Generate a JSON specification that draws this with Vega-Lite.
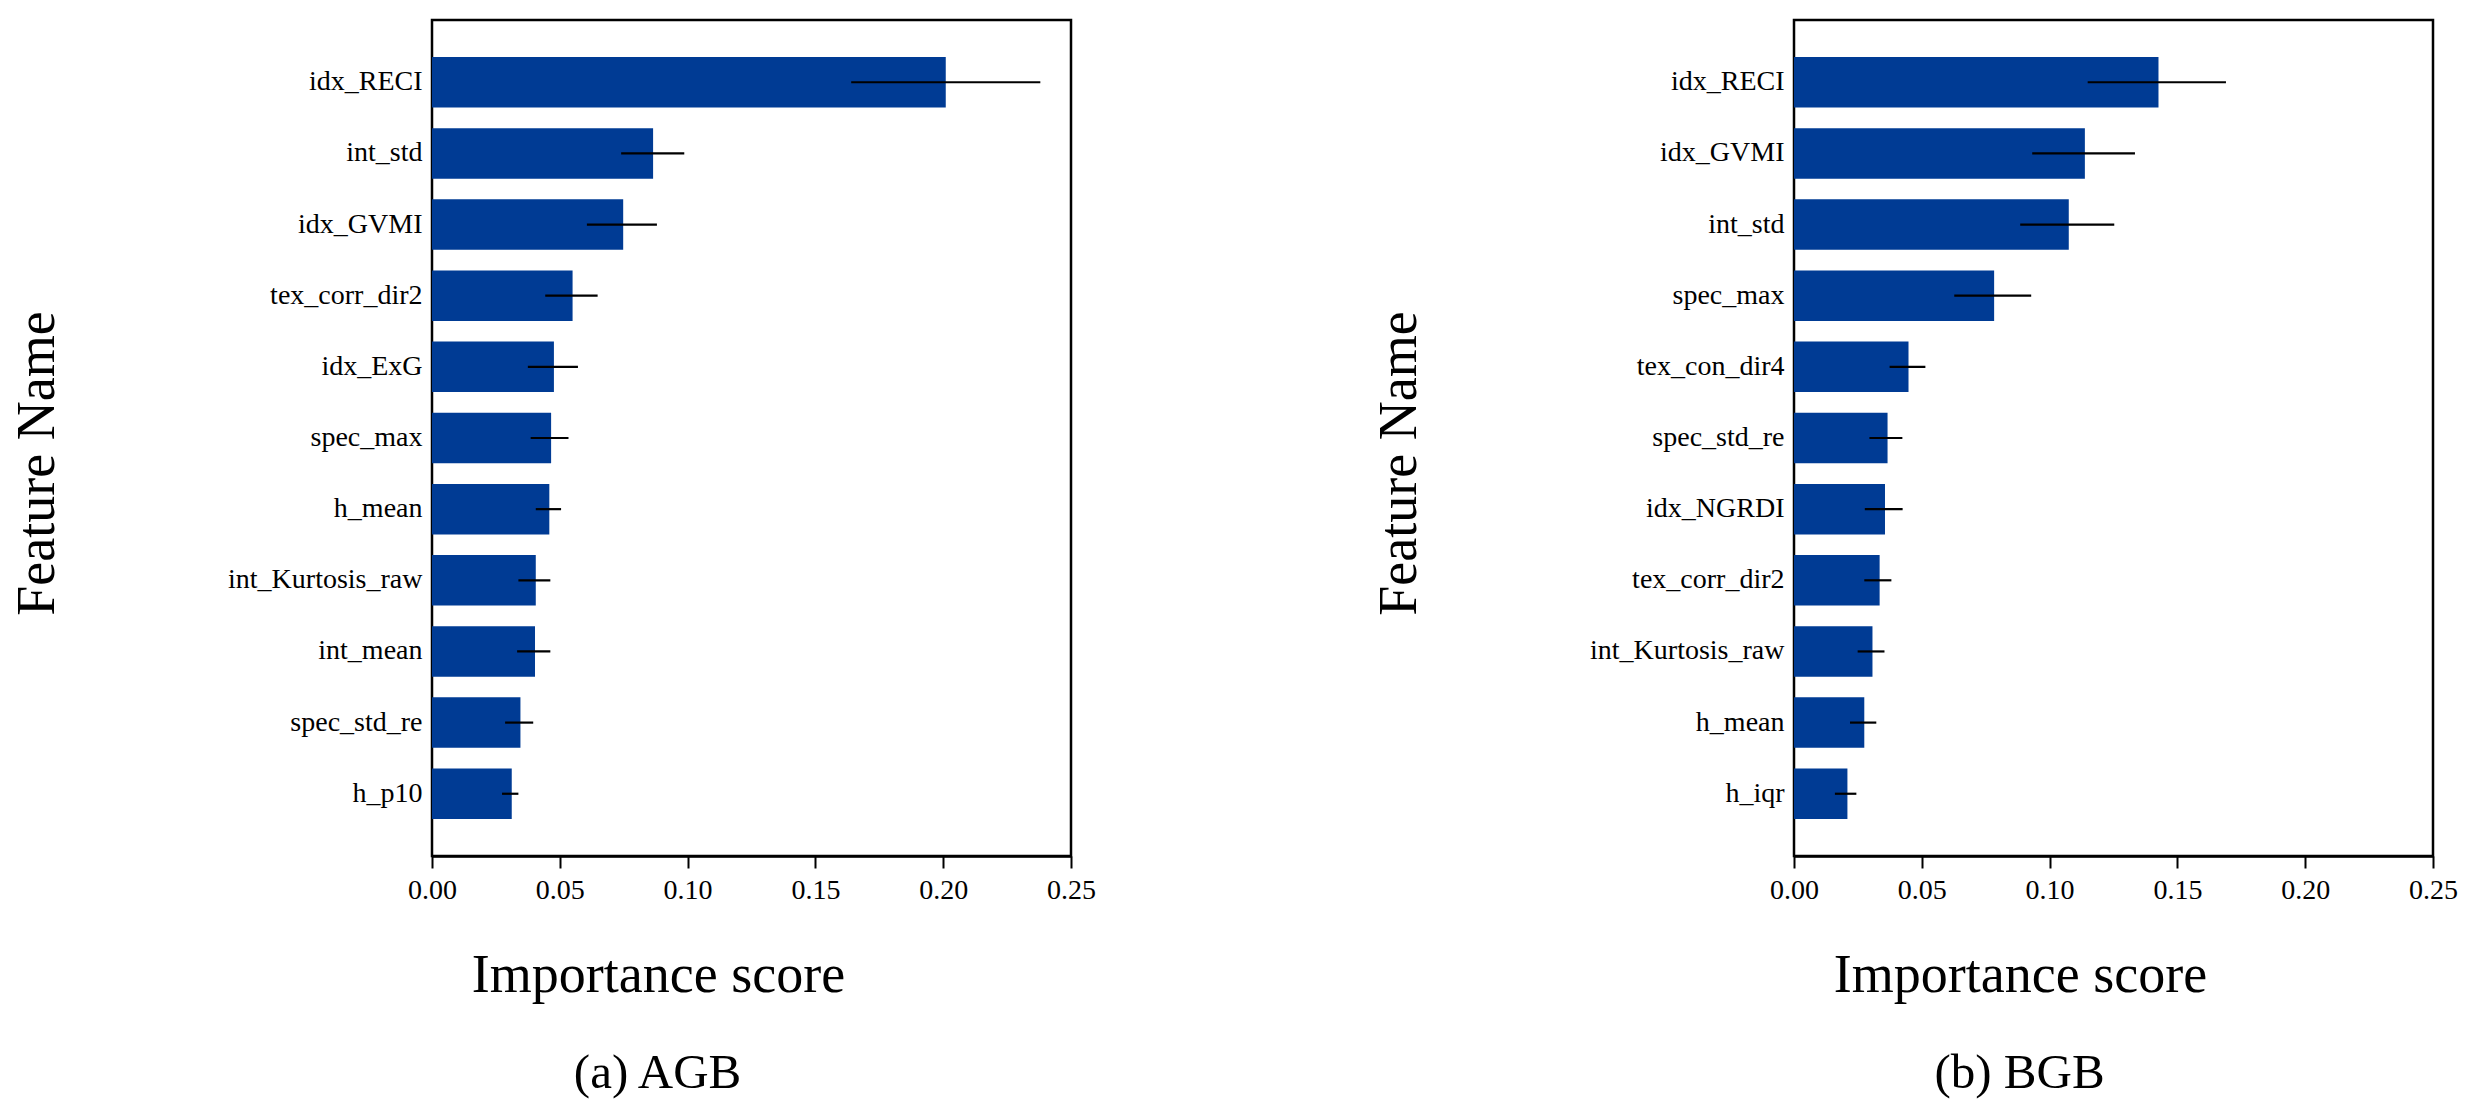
{
  "$schema": "https://vega.github.io/schema/vega-lite/v6.json",
  "background": "white",
  "padding": {"left": 8, "top": 18, "right": 5, "bottom": 5},
  "autosize": {"type": "pad"},
  "bounds": "flush",
  "spacing": 723,
  "datasets": {
    "agb": [
      {"feature": "idx_RECI", "importance": 0.201, "lo": 0.164, "hi": 0.238},
      {"feature": "int_std", "importance": 0.0865, "lo": 0.074, "hi": 0.0987},
      {"feature": "idx_GVMI", "importance": 0.0748, "lo": 0.0606, "hi": 0.088},
      {"feature": "tex_corr_dir2", "importance": 0.055, "lo": 0.0443, "hi": 0.0648},
      {"feature": "idx_ExG", "importance": 0.0477, "lo": 0.0375, "hi": 0.0571},
      {"feature": "spec_max", "importance": 0.0466, "lo": 0.0386, "hi": 0.0534},
      {"feature": "h_mean", "importance": 0.0459, "lo": 0.0406, "hi": 0.0505},
      {"feature": "int_Kurtosis_raw", "importance": 0.0406, "lo": 0.0338, "hi": 0.0463},
      {"feature": "int_mean", "importance": 0.0403, "lo": 0.0333, "hi": 0.0463},
      {"feature": "spec_std_re", "importance": 0.0346, "lo": 0.0286, "hi": 0.0396},
      {"feature": "h_p10", "importance": 0.0312, "lo": 0.0274, "hi": 0.0338}
    ],
    "bgb": [
      {"feature": "idx_RECI", "importance": 0.1426, "lo": 0.1149, "hi": 0.169},
      {"feature": "idx_GVMI", "importance": 0.1138, "lo": 0.0932, "hi": 0.1334},
      {"feature": "int_std", "importance": 0.1075, "lo": 0.0885, "hi": 0.1253},
      {"feature": "spec_max", "importance": 0.0783, "lo": 0.0627, "hi": 0.0928},
      {"feature": "tex_con_dir4", "importance": 0.0448, "lo": 0.0374, "hi": 0.0514},
      {"feature": "spec_std_re", "importance": 0.0366, "lo": 0.0295, "hi": 0.0424},
      {"feature": "idx_NGRDI", "importance": 0.0356, "lo": 0.0277, "hi": 0.0425},
      {"feature": "tex_corr_dir2", "importance": 0.0335, "lo": 0.0275, "hi": 0.0381},
      {"feature": "int_Kurtosis_raw", "importance": 0.0307, "lo": 0.0249, "hi": 0.0354},
      {"feature": "h_mean", "importance": 0.0275, "lo": 0.0219, "hi": 0.0322},
      {"feature": "h_iqr", "importance": 0.0209, "lo": 0.016, "hi": 0.0244}
    ]
  },
  "config": {
    "font": "Liberation Serif",
    "view": {"stroke": "black", "strokeWidth": 2.5},
    "axis": {
      "grid": false,
      "labelFont": "Liberation Serif",
      "titleFont": "Liberation Serif",
      "labelColor": "black",
      "titleColor": "black",
      "titleFontWeight": "normal",
      "labelFontSize": 28,
      "labelLimit": 500,
      "domainColor": "black",
      "domainWidth": 2.5,
      "tickColor": "black",
      "tickWidth": 2
    },
    "axisY": {
      "ticks": false,
      "domain": false,
      "labelPadding": 10,
      "titleFontSize": 54,
      "titleX": -368,
      "titleY": 443
    },
    "axisX": {
      "tickSize": 12,
      "labelPadding": 8,
      "titleFontSize": 54,
      "titleX": 226,
      "titleY": 92,
      "labelFlush": false
    },
    "title": {
      "font": "Liberation Serif",
      "fontSize": 49,
      "fontWeight": "normal",
      "color": "black",
      "orient": "bottom",
      "anchor": "middle",
      "frame": "group",
      "offset": 47,
      "dx": -94
    }
  },
  "hconcat": [
    {
      "width": 639,
      "height": 836,
      "title": {"text": "(a) AGB"},
      "data": {"name": "agb"},
      "layer": [
        {
          "mark": {"type": "bar", "color": "#003b94"},
          "encoding": {
            "y": {"field": "feature", "type": "nominal", "sort": null, "title": "Feature Name",
                  "scale": {"paddingInner": 0.29, "paddingOuter": 0.52}},
            "x": {"field": "importance", "type": "quantitative", "title": "Importance score",
                  "scale": {"domain": [0, 0.25], "nice": false},
                  "axis": {"values": [0, 0.05, 0.1, 0.15, 0.2, 0.25], "format": ".2f"}}
          }
        },
        {
          "mark": {"type": "rule", "color": "black", "strokeWidth": 2.2},
          "encoding": {
            "y": {"field": "feature", "type": "nominal", "sort": null, "title": "Feature Name"},
            "x": {"field": "lo", "type": "quantitative", "title": "Importance score"},
            "x2": {"field": "hi"}
          }
        }
      ]
    },
    {
      "width": 639,
      "height": 836,
      "title": {"text": "(b) BGB"},
      "data": {"name": "bgb"},
      "layer": [
        {
          "mark": {"type": "bar", "color": "#003b94"},
          "encoding": {
            "y": {"field": "feature", "type": "nominal", "sort": null, "title": "Feature Name",
                  "scale": {"paddingInner": 0.29, "paddingOuter": 0.52}},
            "x": {"field": "importance", "type": "quantitative", "title": "Importance score",
                  "scale": {"domain": [0, 0.25], "nice": false},
                  "axis": {"values": [0, 0.05, 0.1, 0.15, 0.2, 0.25], "format": ".2f"}}
          }
        },
        {
          "mark": {"type": "rule", "color": "black", "strokeWidth": 2.2},
          "encoding": {
            "y": {"field": "feature", "type": "nominal", "sort": null, "title": "Feature Name"},
            "x": {"field": "lo", "type": "quantitative", "title": "Importance score"},
            "x2": {"field": "hi"}
          }
        }
      ]
    }
  ]
}
